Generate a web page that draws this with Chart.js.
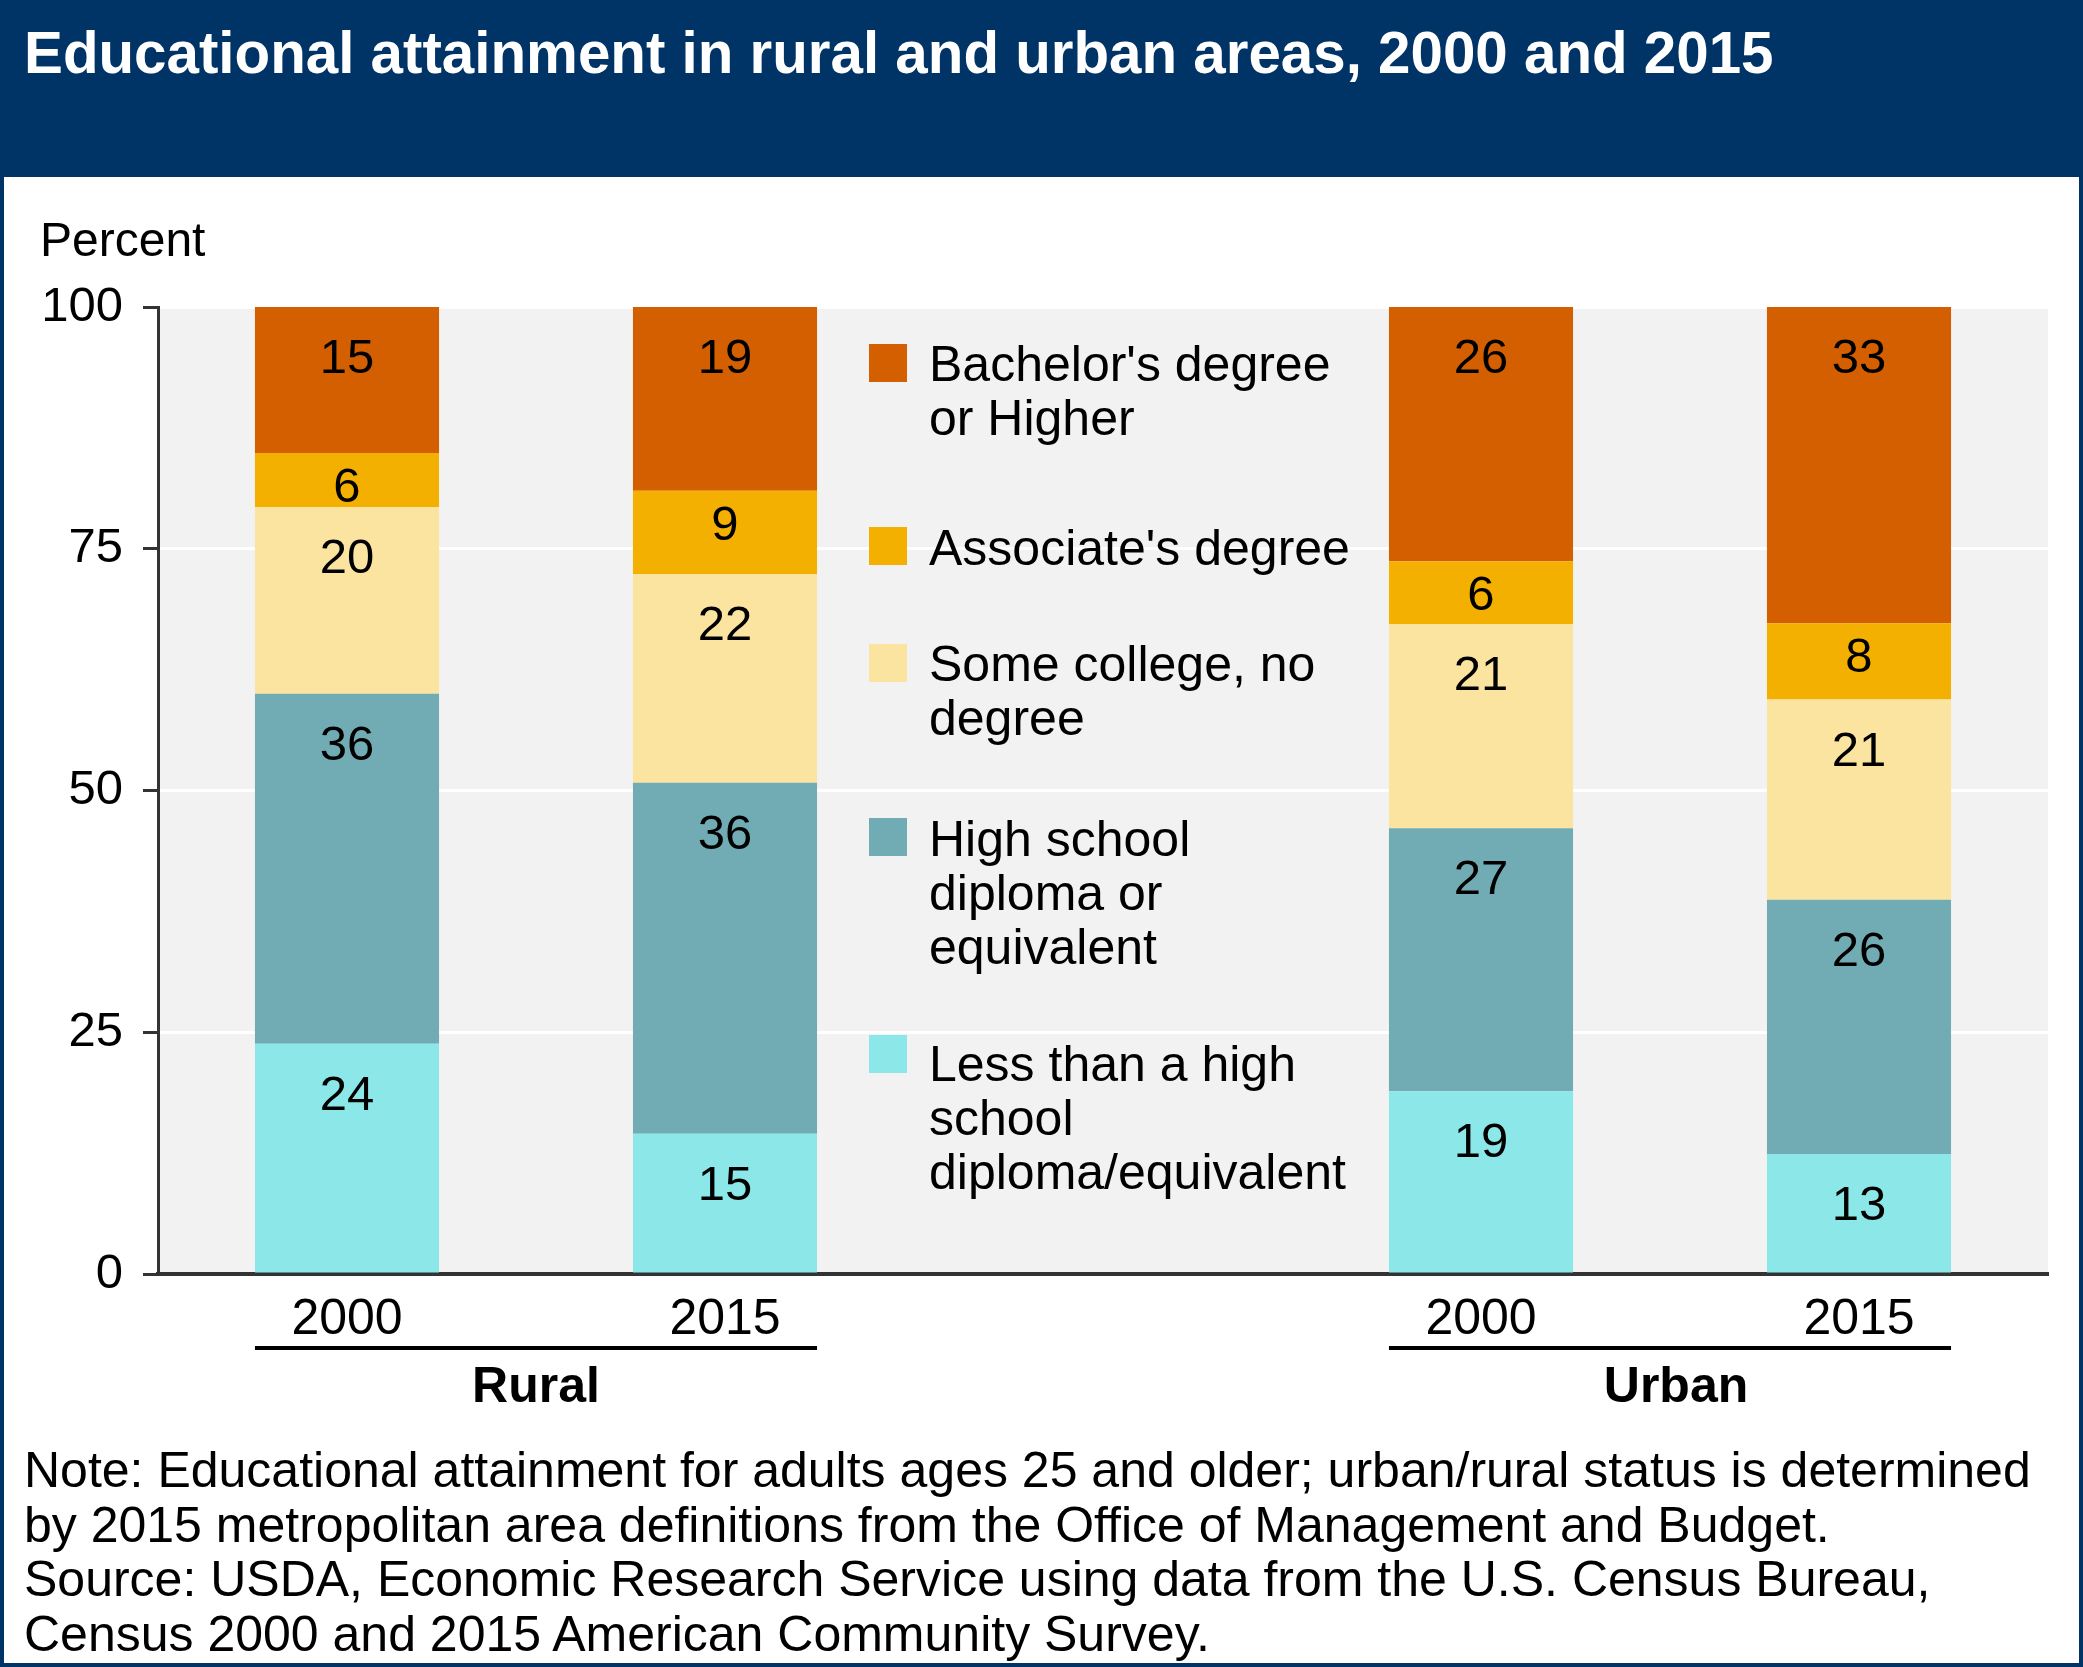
<!DOCTYPE html>
<html>
<head>
<meta charset="utf-8">
<title>Educational attainment in rural and urban areas, 2000 and 2015</title>
<script src="https://cdn.jsdelivr.net/npm/chart.js@4.4.1/dist/chart.umd.min.js"></script>
<style>
  html, body { margin: 0; padding: 0; background: #fff; }
  #wrap { position: relative; width: 2083px; height: 1667px; overflow: hidden;
          font-family: "Liberation Sans", Arial, sans-serif; }
  #head { position: absolute; left: 0; top: 0; width: 2083px; height: 177px; background: #003366; }
  #title { position: absolute; left: 24px; top: 24px; margin: 0; color: #fff;
           font-size: 58.3px; line-height: 58px; font-weight: bold; white-space: nowrap; }
  #note { position: absolute; left: 24px; top: 1443px; margin: 0; color: #000;
          font-size: 50px; line-height: 54.5px; white-space: nowrap; }
  #chart { position: absolute; left: 0; top: 0; }
  #frame { position: absolute; left: 0; top: 0; width: 2083px; height: 1667px; box-sizing: border-box;
           border: 4px solid #003366; border-top: 0; pointer-events: none; }
</style>
</head>
<body>
<div id="wrap">
  <canvas id="chart" width="2083" height="1667"></canvas>
  <div id="head"></div>
  <h1 id="title">Educational attainment in rural and urban areas, 2000 and 2015</h1>
  <p id="note">Note: Educational attainment for adults ages 25 and older; urban/rural status is determined<br>by 2015 metropolitan area definitions from the Office of Management and Budget.<br>Source: USDA, Economic Research Service using data from the U.S. Census Bureau,<br>Census 2000 and 2015 American Community Survey.</p>
  <div id="frame"></div>
</div>
<script>
// categories: the empty slot in the middle holds the legend
const categories = ['2000', '2015', '', '2000', '2015'];
const groupNames = ['Rural', 'Urban'];
const groupMembers = [[0, 1], [3, 4]];
const yTicks = [0, 25, 50, 75, 100];

// segment heights (percent)
const lessThanHS  = [23.8, 14.5, null, 18.9, 12.4];
const highSchool  = [36.2, 36.3, null, 27.2, 26.3];
const someCollege = [19.3, 21.6, null, 21.1, 20.7];
const associate   = [5.6, 8.6, null, 6.5, 7.9];
const bachelor    = [15.1, 19.0, null, 26.3, 32.7];

// numbers printed on the bars
const lessThanHSLabels  = [24, 15, null, 19, 13];
const highSchoolLabels  = [36, 36, null, 27, 26];
const someCollegeLabels = [20, 22, null, 21, 21];
const associateLabels   = [6, 9, null, 6, 8];
const bachelorLabels    = [15, 19, null, 26, 33];

const FONT = '"Liberation Sans", Arial, sans-serif';

const datasets = [
  { label: 'Less than a high school diploma/equivalent', data: lessThanHS, printed: lessThanHSLabels,
    backgroundColor: '#8ce8e8', legendLines: ['Less than a high', 'school', 'diploma/equivalent'] },
  { label: 'High school diploma or equivalent', data: highSchool, printed: highSchoolLabels,
    backgroundColor: '#71acb5', legendLines: ['High school', 'diploma or', 'equivalent'] },
  { label: 'Some college, no degree', data: someCollege, printed: someCollegeLabels,
    backgroundColor: '#fbe3a0', legendLines: ['Some college, no', 'degree'] },
  { label: "Associate's degree", data: associate, printed: associateLabels,
    backgroundColor: '#f4b000', legendLines: ["Associate's degree"] },
  { label: "Bachelor's degree or Higher", data: bachelor, printed: bachelorLabels,
    backgroundColor: '#d35f00', legendLines: ["Bachelor's degree", 'or Higher'] }
];

// grey plot background
const plotBackground = {
  id: 'plotBackground',
  beforeDraw(chart) {
    const { ctx, chartArea: a } = chart;
    ctx.save();
    ctx.fillStyle = '#f2f2f2';
    ctx.fillRect(a.left, a.top, a.right - a.left, a.bottom - a.top);
    ctx.restore();
  }
};

// values inside the segments
const segmentLabels = {
  id: 'segmentLabels',
  afterDatasetsDraw(chart) {
    const ctx = chart.ctx;
    ctx.save();
    ctx.font = '49px ' + FONT;
    ctx.fillStyle = '#000';
    ctx.textAlign = 'center';
    ctx.textBaseline = 'alphabetic';
    chart.data.datasets.forEach((ds, i) => {
      chart.getDatasetMeta(i).data.forEach((bar, j) => {
        if (ds.printed[j] == null) return;
        const top = Math.min(bar.y, bar.base);
        const h = Math.abs(bar.base - bar.y);
        ctx.fillText(String(ds.printed[j]), bar.x, top + (h < 100 ? 49 : 66));
      });
    });
    ctx.restore();
  }
};

// legend in the empty middle slot, top entry first
const legendTops = [344, 527, 644, 818, 1035];
const legendBaselines = [381, 565, 681, 856, 1081];
const middleLegend = {
  id: 'middleLegend',
  afterDatasetsDraw(chart) {
    const ctx = chart.ctx;
    const cx = chart.scales.x.getPixelForValue(2);
    const boxX = cx - 234, textX = cx - 174;
    ctx.save();
    ctx.font = '50px ' + FONT;
    ctx.fillStyle = '#000';
    ctx.textAlign = 'left';
    ctx.textBaseline = 'alphabetic';
    const order = chart.data.datasets.slice().reverse();
    order.forEach((ds, k) => {
      ctx.fillStyle = ds.backgroundColor;
      ctx.fillRect(boxX, legendTops[k], 38, 38);
      ctx.fillStyle = '#000';
      ds.legendLines.forEach((line, n) => ctx.fillText(line, textX, legendBaselines[k] + n * 54));
    });
    ctx.restore();
  }
};

// Rural / Urban brackets under the year labels
const groupAxis = {
  id: 'groupAxis',
  afterDraw(chart) {
    const ctx = chart.ctx;
    const bars = chart.getDatasetMeta(0).data;
    ctx.save();
    ctx.fillStyle = '#000';
    ctx.font = 'bold 50px ' + FONT;
    ctx.textAlign = 'center';
    groupNames.forEach((name, g) => {
      const first = bars[groupMembers[g][0]];
      const last = bars[groupMembers[g][groupMembers[g].length - 1]];
      const x0 = first.x - first.width / 2;
      const x1 = last.x + last.width / 2;
      ctx.fillRect(x0, 1346, x1 - x0, 4);
      ctx.fillText(name, (x0 + x1) / 2 + (g === 1 ? 6 : 0), 1402);
    });
    ctx.font = '48px ' + FONT;
    ctx.textAlign = 'left';
    ctx.fillText('Percent', 40, 256);
    ctx.restore();
  }
};

new Chart(document.getElementById('chart'), {
  type: 'bar',
  data: { labels: categories, datasets: datasets },
  options: {
    responsive: false,
    animation: false,
    layout: { padding: { left: 0, top: 307, right: 35, bottom: 273 } },
    datasets: { bar: { barPercentage: 0.487, categoryPercentage: 1.0 } },
    plugins: { legend: { display: false }, tooltip: { enabled: false } },
    scales: {
      x: {
        stacked: true,
        grid: { display: false, drawTicks: false },
        border: { display: true, color: '#333', width: 4 },
        ticks: { color: '#000', font: { family: FONT, size: 50 }, padding: 16, maxRotation: 0, autoSkip: false },
        afterFit(scale) { scale.height = 120; }
      },
      y: {
        stacked: true,
        min: 0,
        max: 100,
        afterBuildTicks(scale) { scale.ticks = yTicks.map(v => ({ value: v })); },
        grid: { color: '#fff', lineWidth: 3, tickColor: '#333', tickWidth: 3, tickLength: 15 },
        border: { display: true, color: '#333', width: 3 },
        ticks: { color: '#000', font: { family: FONT, size: 49 }, padding: 20 },
        afterFit(scale) { scale.width = 158; }
      }
    }
  },
  plugins: [plotBackground, segmentLabels, middleLegend, groupAxis]
});
</script>
</body>
</html>
